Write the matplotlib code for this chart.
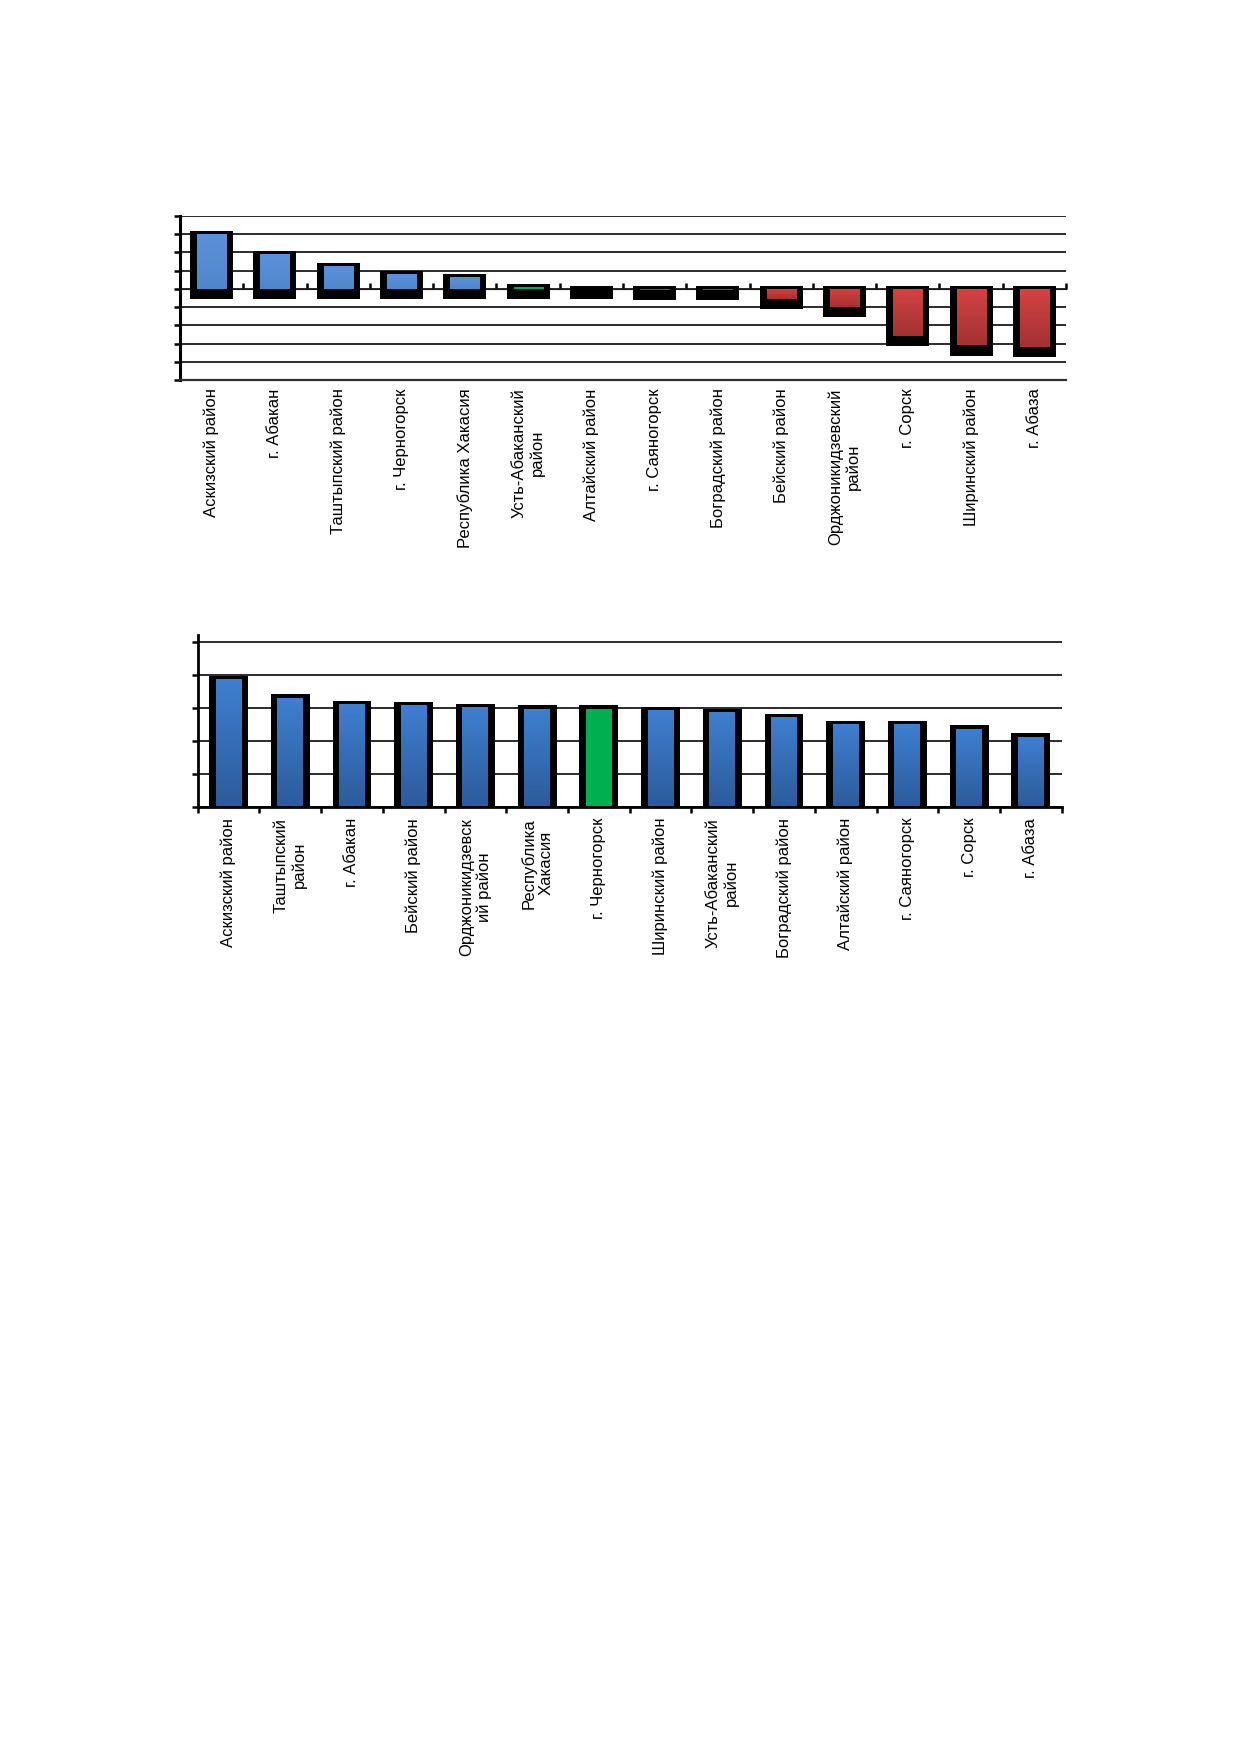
import numpy as np
import matplotlib
matplotlib.use("Agg")
import matplotlib.pyplot as plt
from matplotlib.colors import LinearSegmentedColormap

plt.rcParams['font.family'] = ['Liberation Sans', 'DejaVu Sans']

# ---------------- data ----------------
top_categories = ["Аскизский район", "г. Абакан", "Таштыпский район", "г. Черногорск",
                  "Республика Хакасия", "Усть-Абаканский\nрайон", "Алтайский район",
                  "г. Саяногорск", "Боградский район", "Бейский район",
                  "Орджоникидзевский\nрайон", "г. Сорск", "Ширинский район", "г. Абаза"]
top_values = [3.0, 1.92, 1.26, 0.82, 0.66, 0.09, 0.0, -0.07, -0.07, -0.55, -1.0, -2.58, -3.1, -3.19]
top_kind = ["pos", "pos", "pos", "pos", "pos", "hl", "pos", "neg", "neg", "neg", "neg", "neg", "neg", "neg"]

bottom_categories = ["Аскизский район", "Таштыпский\nрайон", "г. Абакан", "Бейский район",
                     "Орджоникидзевск\nий район", "Республика\nХакасия", "г. Черногорск",
                     "Ширинский район", "Усть-Абаканский\nрайон", "Боградский район",
                     "Алтайский район", "г. Саяногорск", "г. Сорск", "г. Абаза"]
bottom_values = [3.87, 3.30, 3.11, 3.08, 3.02, 2.97, 2.97, 2.93, 2.87, 2.71, 2.51, 2.51, 2.36, 2.12]
bottom_kind = ["pos", "pos", "pos", "pos", "pos", "pos", "hl", "pos", "pos", "pos", "pos", "pos", "pos", "pos"]

# ---------------- style ----------------
W, H = 1239, 1752
fig = plt.figure(figsize=(W / 100, H / 100), dpi=100)
LABEL_FS = 12
GRID_C = "#1a1a1a"

top_cmaps = {
    "pos": LinearSegmentedColormap.from_list("tp", ["#5a91d8", "#4f86cc"]),
    "neg": LinearSegmentedColormap.from_list("tn", ["#d44343", "#a33232"]),
    "hl": LinearSegmentedColormap.from_list("th", ["#00b050", "#00b050"]),
}
bot_cmaps = {
    "pos": LinearSegmentedColormap.from_list("bp", ["#3f7fd0", "#2c5b9a"]),
    "hl": LinearSegmentedColormap.from_list("bh", ["#00b050", "#00b050"]),
}


def gradient_fill(ax, patch, cmap, z=3):
    x0, y0 = patch.get_x(), patch.get_y()
    w, h = patch.get_width(), patch.get_height()
    if h == 0:
        return
    yb, yt = min(y0, y0 + h), max(y0, y0 + h)
    grad = np.linspace(0, 1, 256).reshape(-1, 1)
    im = ax.imshow(grad, extent=[x0, x0 + w, yb, yt], origin="upper", aspect="auto",
                   cmap=cmap, zorder=z, interpolation="bilinear")
    im.set_clip_path(patch)


# ================= top chart =================
ax1 = fig.add_axes([180 / W, 1 - 380 / H, (1066 - 180) / W, (380 - 216) / H])
n1 = len(top_categories)
x1 = np.arange(n1)
ax1.set_xlim(-0.5, n1 - 0.5)
ax1.set_ylim(-5, 4)
ax1.set_yticks(np.arange(-5, 5))
ax1.set_yticklabels([])
ax1.yaxis.grid(True, color=GRID_C, linewidth=1.3, zorder=0)
ax1.set_axisbelow(True)

v1 = np.array(top_values)
up_pad, down_pad = 0.16, 0.56
blk_top = np.maximum(v1, 0) + up_pad
blk_bot = np.minimum(v1, 0) - down_pad
ax1.bar(x1, blk_top - blk_bot, bottom=blk_bot, width=0.68, color="black", zorder=2)
bars1 = ax1.bar(x1, v1, width=0.46, color="none", zorder=3, linewidth=0)
for b, k in zip(bars1, top_kind):
    gradient_fill(ax1, b, top_cmaps[k], z=3)
ax1.set_ylim(-5, 4)
ax1.set_xlim(-0.5, n1 - 0.5)

for s in ["top", "right"]:
    ax1.spines[s].set_visible(False)
ax1.spines["left"].set_linewidth(2.2)
ax1.spines["bottom"].set_linewidth(1.6)
ax1.spines["bottom"].set_color("#303030")
ax1.tick_params(axis="y", direction="out", length=4.5, width=1.8, colors="black")
ax1.set_xticks(x1)
ax1.set_xticklabels(top_categories, rotation=90, fontsize=LABEL_FS, va="top", ha="center",
                    multialignment="center")
ax1.tick_params(axis="x", length=0, pad=6)

loc0 = (0 - (-5)) / 9
sec1 = ax1.secondary_xaxis(loc0)
sec1.set_xticks(np.arange(n1 + 1) - 0.5)
sec1.set_xticklabels([])
sec1.tick_params(axis="x", direction="out", length=4, width=1.8)
sec1.spines["bottom"].set_linewidth(1.6)

# ================= bottom chart =================
ax2 = fig.add_axes([197.7 / W, 1 - 806.7 / H, (1061.7 - 197.7) / W, (806.7 - 635) / H])
n2 = len(bottom_categories)
x2 = np.arange(n2)
v2 = np.array(bottom_values)
ax2.bar(x2, v2 + 0.1, width=0.63, color="black", zorder=2)
bars2 = ax2.bar(x2, v2 - 0.03, bottom=0.03, width=0.42, color="none", zorder=3, linewidth=0)
for b, k in zip(bars2, bottom_kind):
    gradient_fill(ax2, b, bot_cmaps[k], z=3)
ax2.set_xlim(-0.5, n2 - 0.5)
ax2.set_ylim(0, 5.2)
ax2.set_yticks(np.arange(0, 6))
ax2.set_yticklabels([])
ax2.yaxis.grid(True, color=GRID_C, linewidth=1.3, zorder=0)
ax2.set_axisbelow(True)
for s in ["top", "right"]:
    ax2.spines[s].set_visible(False)
ax2.spines["left"].set_linewidth(2.0)
ax2.spines["bottom"].set_linewidth(2.0)
ax2.tick_params(axis="y", direction="out", length=4.5, width=1.8)
ax2.set_xticks(x2)
ax2.set_xticklabels(bottom_categories, rotation=90, fontsize=LABEL_FS, va="top", ha="center",
                    multialignment="center")
ax2.set_xticks(np.arange(n2 + 1) - 0.5, minor=True)
ax2.tick_params(axis="x", which="major", length=0, pad=8)
ax2.tick_params(axis="x", which="minor", direction="out", length=4, width=1.8)

fig.savefig("out.png", dpi=100, facecolor="white")
